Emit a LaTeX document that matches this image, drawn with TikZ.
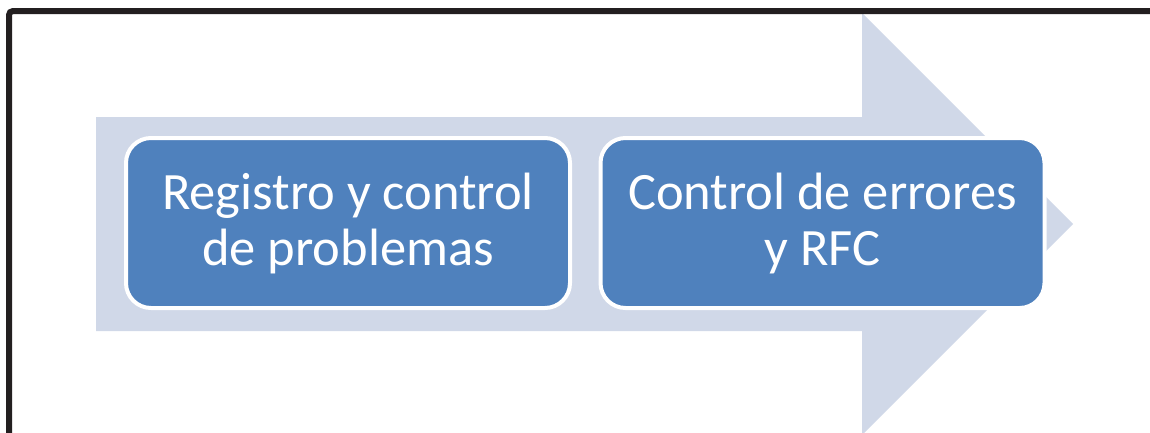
\documentclass[tikz,border=0pt]{standalone}
\usepackage{fontspec}
\setmainfont{Carlito}
\definecolor{arrowfill}{HTML}{D0D8E8}
\definecolor{boxfill}{HTML}{4F81BD}
\definecolor{framecol}{HTML}{231F20}
\tikzset{
  procbox/.style={draw=white, line width=4pt, fill=boxfill, rounded corners=25pt,
    minimum width=444pt, minimum height=170pt, inner sep=0pt, align=center,
    text=white, font=\fontsize{52.5}{56}\selectfont},
  bigarrow/.style={fill=arrowfill, draw=none},
  frameline/.style={draw=framecol, line width=6pt, rounded corners=4pt}
}
\begin{document}
\begin{tikzpicture}[x=1pt,y=-1pt]
  \useasboundingbox (0,0) rectangle (1150,432);
  \clip (0,0) rectangle (1150,432);
  \fill[white] (0,0) rectangle (1150,432);
  % wide process arrow behind the steps
  \fill[bigarrow] (96,117) -- (862,117) -- (862,13) -- (1073,224)
    -- (862,435) -- (862,331) -- (96,331) -- cycle;
  % outer frame
  \draw[frameline] (9,445) -- (9,11) -- (1165,11);
  % process steps
  \node[procbox] (reg) at (348,223) {Registro y control\\de problemas};
  \node[procbox] (err) at (822.5,223) {Control de errores\\y RFC};
\end{tikzpicture}
\end{document}
